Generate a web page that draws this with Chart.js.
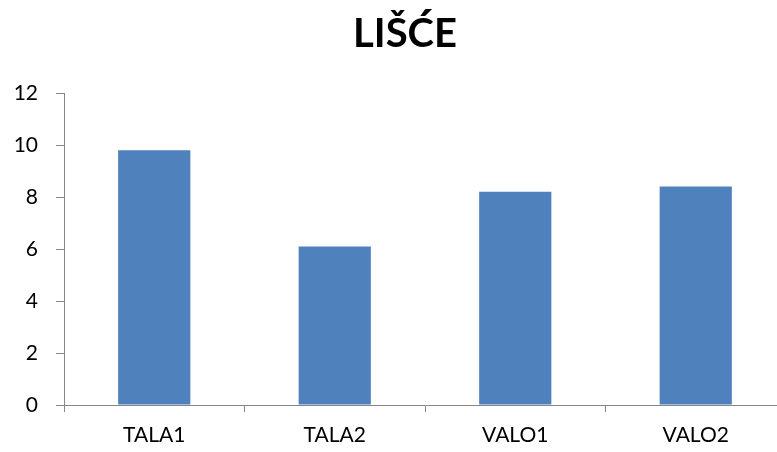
<!DOCTYPE html>
<html>
<head>
<meta charset="utf-8">
<script src="https://cdn.jsdelivr.net/npm/chart.js@4"></script>
<style>
html,body{margin:0;padding:0;overflow:hidden;background:#fff;}
#wrap{width:810px;height:452px;}
</style>
</head>
<body>
<div id="wrap"><canvas id="c" width="810" height="452"></canvas></div>
<script>
const chartTitle = "LIŠĆE";
const categories = ["TALA1", "TALA2", "VALO1", "VALO2"];
const values = [9.8, 6.1, 8.2, 8.4];
const yMin = 0, yMax = 12, yStep = 2;

const axisColor = '#868686';
new Chart(document.getElementById('c'), {
  type: 'bar',
  data: {
    labels: categories,
    datasets: [{
      data: values,
      backgroundColor: '#4F81BD',
      borderColor: '#4F81BD',
      borderWidth: 0,
      categoryPercentage: 1,
      barPercentage: 0.4
    }]
  },
  options: {
    responsive: false,
    animation: false,
    layout: { padding: { left: 0, right: 0, top: 0, bottom: 0 } },
    plugins: {
      legend: { display: false },
      tooltip: { enabled: false },
      title: {
        display: true,
        text: chartTitle,
        color: '#000',
        font: { family: 'Lato', size: 40, weight: 'bold', lineHeight: 1.2 },
        padding: { top: 10, bottom: 35 }
      }
    },
    scales: {
      x: {
        grid: { display: true, drawOnChartArea: false, drawTicks: true, tickLength: 7, color: axisColor, offset: true },
        border: { display: true, color: axisColor, width: 1 },
        ticks: { color: '#000', font: { family: 'Lato', size: 21 }, padding: 11 },
        afterFit(s) { s.height = 47; }
      },
      y: {
        min: yMin, max: yMax,
        grid: { display: true, drawOnChartArea: false, drawTicks: true, tickLength: 8, color: axisColor },
        border: { display: true, color: axisColor, width: 1 },
        ticks: { stepSize: yStep, color: '#000', font: { family: 'Lato', size: 21 }, padding: 18 },
        afterFit(s) { s.width = 64; }
      },
      yPad: {
        position: 'right',
        min: yMin, max: yMax,
        grid: { display: false },
        border: { display: false },
        ticks: { display: false },
        afterFit(s) { s.width = 24; }
      }
    }
  }
});
</script>
</body>
</html>
